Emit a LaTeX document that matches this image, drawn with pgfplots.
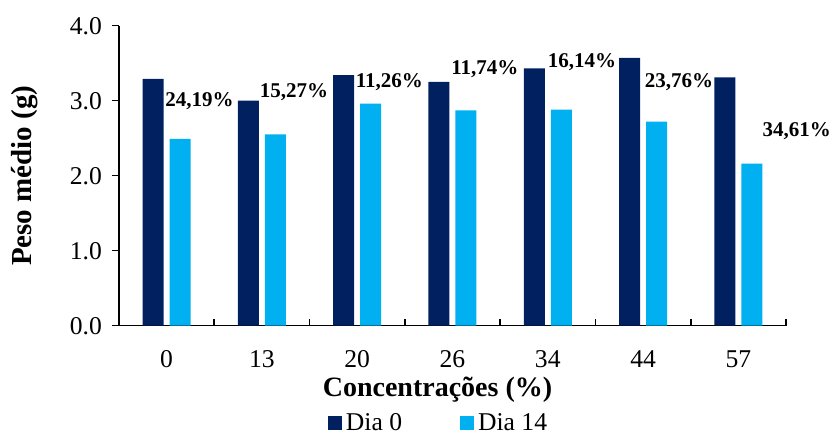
\documentclass[border=0pt]{standalone}
\usepackage{fontspec}
\setmainfont{Liberation Serif}
\usepackage{pgfplots}
\pgfplotsset{compat=1.18}
\definecolor{navy}{HTML}{002060}
\definecolor{lblue}{HTML}{00B0F0}
\begin{document}
\begin{tikzpicture}
\begin{axis}[
  scale only axis, width=333.5pt, height=150pt,
  xmin=-0.5, xmax=6.5, ymin=0, ymax=4,
  clip=false,
  axis x line*=bottom, axis y line*=left,
  axis line style={line width=0.8pt, -},
  font=\fontsize{12.8}{15}\selectfont,
  xtick={0,1,2,3,4,5,6},
  xticklabels={0,13,20,26,34,44,57},
  minor xtick={-0.5,0.5,1.5,2.5,3.5,4.5,5.5,6.5},
  major x tick style={draw=none},
  minor x tick style={line width=0.8pt, black},
  minor tick length=3.5pt,
  tick align=inside,
  ytick={0,1,2,3,4},
  major tick length=3.5pt,
  ytick style={line width=0.8pt, black, xshift=-3.5pt},
  x tick label style={yshift=-9pt},
  y tick label style={xshift=-5pt},
  /pgf/number format/assume math mode=true,
  yticklabel style={/pgf/number format/.cd, fixed, fixed zerofill, precision=1},
  ylabel={\fontsize{14.5}{17}\selectfont\bfseries Peso médio (g)},
  ylabel style={yshift=9pt},
  xlabel={\fontsize{14}{17}\selectfont\bfseries Concentrações (\%)},
  xlabel style={at={(rel axis cs:0.4775,0)}, anchor=north, yshift=-22pt},
  legend style={at={(rel axis cs:0.4805,-0.326)}, anchor=center, draw=none, fill=none,
    legend columns=2, /tikz/every even column/.append style={column sep=27pt},
    font=\fontsize{12.8}{15}\selectfont},
  legend image code/.code={\fill[#1,draw=none] (0pt,-3.5pt) rectangle (7pt,3.5pt);},
]
\addplot[ybar, bar width=10.5pt, bar shift=-6.75pt, fill=navy, draw=none]
  coordinates {(0,3.29) (1,3.00) (2,3.34) (3,3.25) (4,3.43) (5,3.57) (6,3.31)};
\addlegendentry{Dia 0}
\addplot[ybar, bar width=10.5pt, bar shift=6.75pt, fill=lblue, draw=none]
  coordinates {(0,2.49) (1,2.55) (2,2.96) (3,2.87) (4,2.88) (5,2.72) (6,2.16)};
\addlegendentry{Dia 14}
\addplot[forget plot, only marks, mark=none, point meta=explicit symbolic,
  nodes near coords={\pgfplotspointmeta\%},
  every node near coord/.append style={anchor=center, font=\fontsize{10.5}{12}\selectfont\bfseries, inner sep=0pt}]
  table[meta=lab] {
x y lab
0.345 3.00 24,19
1.336 3.12 15,27
2.338 3.25 11,26
3.340 3.42 11,74
4.358 3.51 16,14
5.376 3.25 23,76
6.614 2.60 34,61
};
\path (rel axis cs:0,0) ++(-59.5pt,-54.15pt) rectangle ++(416pt,217pt);
\end{axis}
\end{tikzpicture}
\end{document}
